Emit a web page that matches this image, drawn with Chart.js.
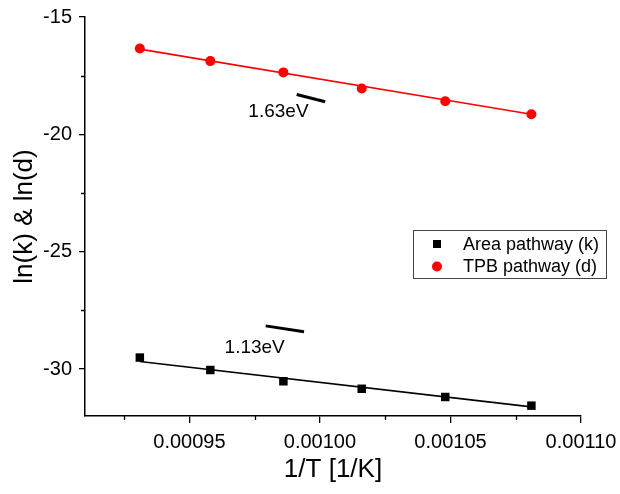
<!DOCTYPE html>
<html>
<head>
<meta charset="utf-8">
<script src="https://cdn.jsdelivr.net/npm/chart.js@4.4.1/dist/chart.umd.min.js"></script>
<style>
  html, body { margin: 0; padding: 0; background: #fff; }
  #wrap { width: 620px; height: 494px; }
</style>
</head>
<body>
<div id="wrap"><canvas id="c" width="620" height="494"></canvas></div>
<script>
// Arrhenius data: 1/T against ln of the two rate constants
const inverseT = [0.000931, 0.000958, 0.000986, 0.001016, 0.001048, 0.001081];
const lnArea = [-29.51, -30.04, -30.52, -30.84, -31.19, -31.56];
const lnTPB = [-16.34, -16.88, -17.36, -18.05, -18.59, -19.14];

// Linear fit end points
const fitX = [0.000931, 0.001081];
const fitArea = [-29.68, -31.61];
const fitTPB = [-16.37, -19.14];

// Slope marks with their activation energy labels
const markAreaX = [0.0009792, 0.0009939];
const markAreaY = [-28.16, -28.41];
const markTPBX = [0.0009911, 0.0010020];
const markTPBY = [-18.30, -18.61];
const energyLabels = ['1.13eV', '1.63eV'];
const energyLabelX = [0.000975, 0.0009841];
const energyLabelY = [-29.08, -19.05];

// Axis ticks
const xMajorTicks = [0.00095, 0.00100, 0.00105, 0.00110];
const xMinorTicks = [0.000925, 0.000975, 0.001025, 0.001075];
const yMajorTicks = [-30, -25, -20, -15];
const yMinorTicks = [-27.5, -22.5, -17.5];

const seriesNames = ['Area pathway (k)', 'TPB pathway (d)'];

const FONT = '"Liberation Sans", Arial, sans-serif';
const pts = (xs, ys) => xs.map((x, i) => ({ x: x, y: ys[i] }));

const minorTicks = {
  id: 'minorTicks',
  afterDraw(chart) {
    const ctx = chart.ctx;
    const xs = chart.scales.x, ys = chart.scales.y;
    const area = chart.chartArea;
    ctx.save();
    ctx.strokeStyle = '#000';
    ctx.lineWidth = 1.3;
    ctx.beginPath();
    xMinorTicks.forEach(v => {
      const px = Math.round(xs.getPixelForValue(v)) + 0.5;
      ctx.moveTo(px, area.bottom);
      ctx.lineTo(px, area.bottom + 4);
    });
    yMinorTicks.forEach(v => {
      const py = Math.round(ys.getPixelForValue(v)) + 0.5;
      ctx.moveTo(area.left, py);
      ctx.lineTo(area.left - 4, py);
    });
    ctx.stroke();

    // energy labels
    ctx.fillStyle = '#000';
    ctx.font = '19px ' + FONT;
    ctx.textAlign = 'center';
    ctx.textBaseline = 'middle';
    energyLabels.forEach((t, i) => {
      ctx.fillText(t, xs.getPixelForValue(energyLabelX[i]), ys.getPixelForValue(energyLabelY[i]));
    });

    // legend box
    const bx = 413.5, by = 230.5, bw = 193, bh = 48;
    ctx.strokeStyle = '#444';
    ctx.lineWidth = 1;
    ctx.strokeRect(bx, by, bw, bh);
    ctx.font = '18px ' + FONT;
    ctx.textAlign = 'left';
    const rows = [
      { y: by + 13.5, color: '#000', style: 'rect' },
      { y: by + 36, color: '#ff0000', style: 'circle' }
    ];
    rows.forEach((r, i) => {
      ctx.fillStyle = r.color;
      if (r.style === 'rect') {
        ctx.fillRect(437 - 4, r.y - 4, 8, 8);
      } else {
        ctx.beginPath();
        ctx.arc(437, r.y, 5, 0, Math.PI * 2);
        ctx.fill();
      }
      ctx.fillStyle = '#000';
      ctx.fillText(seriesNames[i], 463, r.y + 1);
    });
    ctx.restore();
  }
};

new Chart(document.getElementById('c'), {
  type: 'scatter',
  data: {
    datasets: [
      {
        label: seriesNames[0],
        data: pts(inverseT, lnArea),
        showLine: false,
        pointStyle: 'rect',
        pointRadius: 6,
        backgroundColor: '#000',
        borderColor: '#000',
        borderWidth: 0
      },
      {
        label: seriesNames[1],
        data: pts(inverseT, lnTPB),
        showLine: false,
        pointStyle: 'circle',
        pointRadius: 5,
        backgroundColor: '#ff0000',
        borderColor: '#ff0000',
        borderWidth: 0
      },
      {
        label: 'fit k',
        data: pts(fitX, fitArea),
        showLine: true,
        pointRadius: 0,
        borderColor: '#000',
        borderWidth: 1.6
      },
      {
        label: 'fit d',
        data: pts(fitX, fitTPB),
        showLine: true,
        pointRadius: 0,
        borderColor: '#ff0000',
        borderWidth: 1.6
      },
      {
        label: 'mark k',
        data: pts(markAreaX, markAreaY),
        showLine: true,
        pointRadius: 0,
        borderColor: '#000',
        borderWidth: 3
      },
      {
        label: 'mark d',
        data: pts(markTPBX, markTPBY),
        showLine: true,
        pointRadius: 0,
        borderColor: '#000',
        borderWidth: 3
      }
    ]
  },
  options: {
    responsive: false,
    animation: false,
    devicePixelRatio: 1,
    layout: { padding: { left: 0, right: 39, top: 17, bottom: 0 } },
    plugins: {
      legend: { display: false },
      tooltip: { enabled: false }
    },
    scales: {
      x: {
        type: 'linear',
        min: 0.00091,
        max: 0.00110,
        afterBuildTicks: s => { s.ticks = xMajorTicks.map(v => ({ value: v })); },
        afterFit: s => { s.height = 78; s.paddingLeft = 0; s.paddingRight = 0; },
        grid: { drawOnChartArea: false, drawTicks: true, tickLength: 7, color: '#000', lineWidth: 1.3 },
        border: { display: true, color: '#000', width: 1.5 },
        ticks: {
          color: '#000',
          font: { family: FONT, size: 20 },
          padding: 7,
          maxRotation: 0,
          callback: v => v.toFixed(5)
        },
        title: {
          display: true,
          text: '1/T [1/K]',
          color: '#000',
          font: { family: FONT, size: 26 },
          padding: { top: 4, bottom: 9 }
        }
      },
      y: {
        type: 'linear',
        min: -32,
        max: -15,
        afterBuildTicks: s => { s.ticks = yMajorTicks.map(v => ({ value: v })); },
        afterFit: s => { s.width = 85; s.paddingTop = 0; s.paddingBottom = 0; },
        grid: { drawOnChartArea: false, drawTicks: true, tickLength: 6, color: '#000', lineWidth: 1.3 },
        border: { display: true, color: '#000', width: 1.5 },
        ticks: {
          color: '#000',
          font: { family: FONT, size: 20 },
          padding: 7,
          callback: v => String(v)
        },
        title: {
          display: true,
          text: 'ln(k) & ln(d)',
          color: '#000',
          font: { family: FONT, size: 26 },
          padding: { top: 9, bottom: 4 }
        }
      }
    }
  },
  plugins: [minorTicks]
});
</script>
</body>
</html>
